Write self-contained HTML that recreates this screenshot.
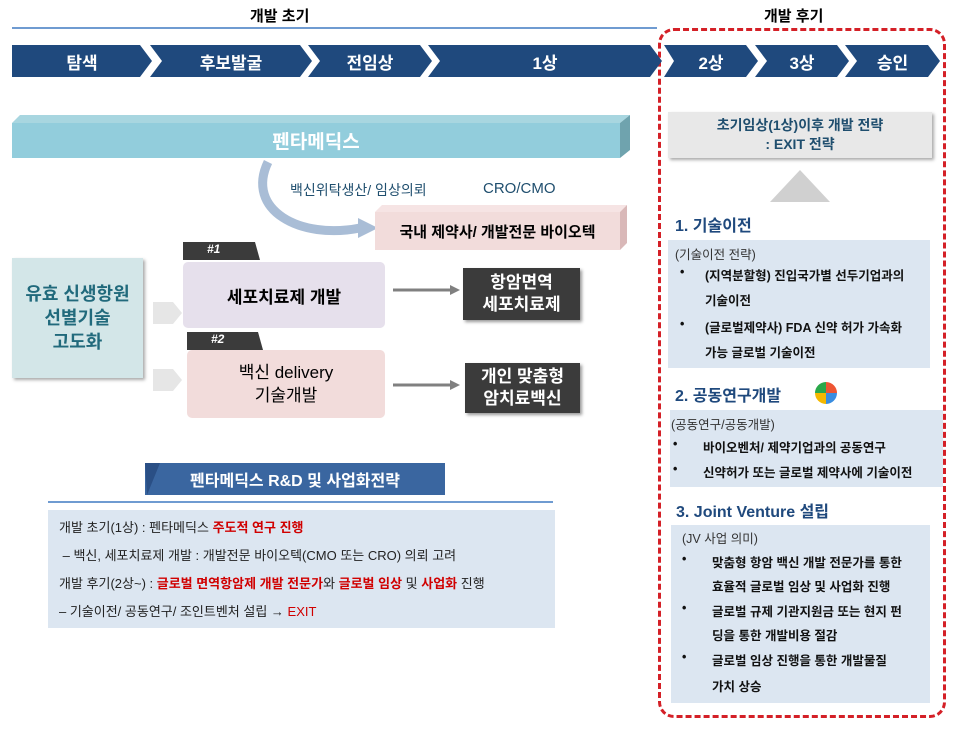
<!DOCTYPE html>
<html><head><meta charset="utf-8"><style>
*{margin:0;padding:0;box-sizing:border-box}
body{width:964px;height:735px;background:#fff;position:relative;overflow:hidden;font-family:"Liberation Sans","Noto Sans CJK KR",sans-serif}
.a{position:absolute}
.c{display:flex;align-items:center;justify-content:center;text-align:center}
.chev{position:absolute;top:45px;height:32px;background:#1f497d;color:#fff;font-size:17px;font-weight:bold;display:flex;align-items:center;justify-content:center;clip-path:polygon(0 0,calc(100% - 12px) 0,100% 50%,calc(100% - 12px) 100%,0 100%,12px 50%)}
.t{font-size:13px;color:#222;line-height:24px}
.r{color:#d00000;font-weight:bold}
.b{font-size:12.5px;font-weight:bold;color:#111;position:absolute}
.h{font-size:16px;color:#1f497d;font-weight:bold;position:absolute}
</style></head><body>
<div class="a" style="left:250px;top:5px;font-size:15px;font-weight:bold">개발 초기</div>
<div class="a" style="left:764px;top:5px;font-size:15px;font-weight:bold">개발 후기</div>
<div class="a" style="left:12px;top:27px;width:645px;height:2px;background:#6f9bd1"></div>
<div class="a" style="left:658px;top:28px;width:288px;height:690px;border:3px dashed #d42027;border-radius:16px"></div>
<div class="chev" style="left:12px;width:140px;clip-path:polygon(0 0,calc(100% - 12px) 0,100% 50%,calc(100% - 12px) 100%,0 100%)">탐색</div>
<div class="chev" style="left:150px;width:162px">후보발굴</div>
<div class="chev" style="left:308px;width:124px">전임상</div>
<div class="chev" style="left:428px;width:234px">1상</div>
<div class="chev" style="left:664px;width:94px;clip-path:polygon(0 0,calc(100% - 12px) 0,100% 50%,calc(100% - 12px) 100%,0 100%,10px 50%)">2상</div>
<div class="chev" style="left:755px;width:94px">3상</div>
<div class="chev" style="left:845px;width:95px">승인</div>

<svg class="a" style="left:0;top:0" width="964" height="735">
<polygon points="12,158 12,123 20,115 630,115 620,123 620,158" fill="#a8d6e0"/>
<polygon points="620,123 630,115 630,150 620,158" fill="#6fa3ae"/>
<rect x="12" y="123" width="608" height="35" fill="#92cddc"/>
<path d="M268,162 C245,210 300,240 360,228" stroke="#a9bdd6" stroke-width="9" fill="none"/>
<polygon points="358,218 378,228 358,238" fill="#a9bdd6"/>
<polygon points="375,212 382,205 627,205 620,212" fill="#f6e4e4"/>
<polygon points="620,212 627,205 627,243 620,250" fill="#d9b8b8"/>
<rect x="375" y="212" width="245" height="38" fill="#f2dcdb"/>
<polygon points="800,170 770,202 830,202" fill="#d0d0d0"/>
<polygon points="153,302 173,302 182,313 173,324 153,324" fill="#e6e6e6"/>
<polygon points="153,369 173,369 182,380 173,391 153,391" fill="#e6e6e6"/>
<line x1="393" y1="290" x2="452" y2="290" stroke="#808080" stroke-width="3"/>
<polygon points="450,285 460,290 450,295" fill="#808080"/>
<line x1="393" y1="385" x2="452" y2="385" stroke="#808080" stroke-width="3"/>
<polygon points="450,380 460,385 450,390" fill="#808080"/>
<polygon points="183,242 255,242 260,260 183,260" fill="#3b3b3b"/>
<polygon points="187,332 258,332 263,350 187,350" fill="#3b3b3b"/>
<polygon points="145,463 445,463 445,495 145,495" fill="#3a66a0"/>
<polygon points="145,463 160,463 147,495" fill="#2a4f85"/>
</svg>
<div class="a c" style="left:12px;top:123px;width:608px;height:35px;color:#fff;font-size:19px;font-weight:bold">펜타메딕스</div>
<div class="a" style="left:290px;top:180px;font-size:14px;color:#1f4e6e">백신위탁생산/ 임상의뢰</div>
<div class="a" style="left:483px;top:180px;font-size:15px;color:#1f4e6e">CRO/CMO</div>
<div class="a c" style="left:375px;top:212px;width:245px;height:38px;font-size:15px;font-weight:bold">국내 제약사/ 개발전문 바이오텍</div>
<div class="a c" style="left:12px;top:258px;width:131px;height:120px;background:#d3e6e8;color:#216a7c;font-size:18px;font-weight:bold;line-height:24px;box-shadow:2px 2px 3px #aaa">유효 신생항원<br>선별기술<br>고도화</div>
<div class="a" style="left:207px;top:242px;color:#fff;font-size:12px;font-weight:bold;font-style:italic">#1</div>
<div class="a" style="left:211px;top:332px;color:#fff;font-size:12px;font-weight:bold;font-style:italic">#2</div>
<div class="a c" style="left:183px;top:262px;width:202px;height:66px;background:#e6e0ec;border-radius:5px;font-size:17px;font-weight:bold">세포치료제 개발</div>
<div class="a c" style="left:187px;top:350px;width:198px;height:68px;background:#f2dcdb;border-radius:5px;font-size:17px;line-height:23px">백신 delivery<br>기술개발</div>
<div class="a c" style="left:463px;top:268px;width:117px;height:52px;background:#3b3b3b;color:#fff;font-size:17px;font-weight:bold;line-height:22px;box-shadow:2px 2px 3px #999">항암면역<br>세포치료제</div>
<div class="a c" style="left:465px;top:363px;width:115px;height:50px;background:#3b3b3b;color:#fff;font-size:17px;font-weight:bold;line-height:22px;box-shadow:2px 2px 3px #999">개인 맞춤형<br>암치료백신</div>
<div class="a c" style="left:145px;top:463px;width:300px;height:32px;color:#fff;font-size:16px;font-weight:bold">펜타메딕스 R&amp;D 및 사업화전략</div>
<div class="a" style="left:48px;top:501px;width:505px;height:2px;background:#6f9bd1"></div>
<div class="a" style="left:48px;top:510px;width:507px;height:118px;background:#dce6f1;padding:4px 0 0 11px">
<div class="t" style="line-height:28px">개발 초기(1상) : 펜타메딕스 <span class="r">주도적 연구 진행</span></div>
<div class="t" style="line-height:28px">&nbsp;– 백신, 세포치료제 개발 : 개발전문 바이오텍(CMO 또는 CRO) 의뢰 고려</div>
<div class="t" style="line-height:28px">개발 후기(2상~) : <span class="r">글로벌 면역항암제 개발 전문가</span>와 <span class="r">글로벌 임상</span> 및 <span class="r">사업화</span> 진행</div>
<div class="t" style="line-height:28px">– 기술이전/ 공동연구/ 조인트벤처 설립 → <span style="color:#d00000">EXIT</span></div>
</div>

<div class="a c" style="left:668px;top:112px;width:264px;height:46px;background:#e8e8e8;color:#1f4e6e;font-size:14px;font-weight:bold;line-height:19px;box-shadow:2px 2px 3px #aaa">초기임상(1상)이후 개발 전략<br>: EXIT 전략</div>
<div class="h" style="left:675px;top:212px">1. 기술이전</div>
<div class="a" style="left:668px;top:240px;width:262px;height:128px;background:#dce6f1"></div>
<div class="a" style="left:675px;top:244px;font-size:12.5px;color:#333">(기술이전 전략)</div>
<div class="b" style="left:680px;top:265px">•</div><div class="b" style="left:705px;top:265px">(지역분할형) 진입국가별 선두기업과의</div>
<div class="b" style="left:705px;top:290px">기술이전</div>
<div class="b" style="left:680px;top:317px">•</div><div class="b" style="left:705px;top:317px">(글로벌제약사) FDA 신약 허가 가속화</div>
<div class="b" style="left:705px;top:342px">가능 글로벌 기술이전</div>
<div class="h" style="left:675px;top:382px">2. 공동연구개발</div>
<div class="a" style="left:815px;top:382px;width:22px;height:22px;border-radius:50%;background:conic-gradient(#e53 0 25%,#3a8de0 0 50%,#f5b800 0 75%,#2aa84a 0)"></div>
<div class="a" style="left:670px;top:410px;width:273px;height:77px;background:#dce6f1"></div>
<div class="a" style="left:671px;top:414px;font-size:12.5px;color:#333">(공동연구/공동개발)</div>
<div class="b" style="left:673px;top:437px">•</div><div class="b" style="left:703px;top:437px">바이오벤처/ 제약기업과의 공동연구</div>
<div class="b" style="left:673px;top:462px">•</div><div class="b" style="left:703px;top:462px">신약허가 또는 글로벌 제약사에 기술이전</div>
<div class="h" style="left:676px;top:498px">3. Joint Venture 설립</div>
<div class="a" style="left:671px;top:525px;width:259px;height:178px;background:#dce6f1"></div>
<div class="a" style="left:682px;top:528px;font-size:12.5px;color:#333">(JV 사업 의미)</div>
<div class="b" style="left:682px;top:552px">•</div><div class="b" style="left:712px;top:552px">맞춤형 항암 백신 개발 전문가를 통한</div>
<div class="b" style="left:712px;top:576px">효율적 글로벌 임상 및 사업화 진행</div>
<div class="b" style="left:682px;top:601px">•</div><div class="b" style="left:712px;top:601px">글로벌 규제 기관지원금 또는 현지 펀</div>
<div class="b" style="left:712px;top:625px">딩을 통한 개발비용 절감</div>
<div class="b" style="left:682px;top:650px">•</div><div class="b" style="left:712px;top:650px">글로벌 임상 진행을 통한 개발물질</div>
<div class="b" style="left:712px;top:676px">가치 상승</div>
</body></html>
